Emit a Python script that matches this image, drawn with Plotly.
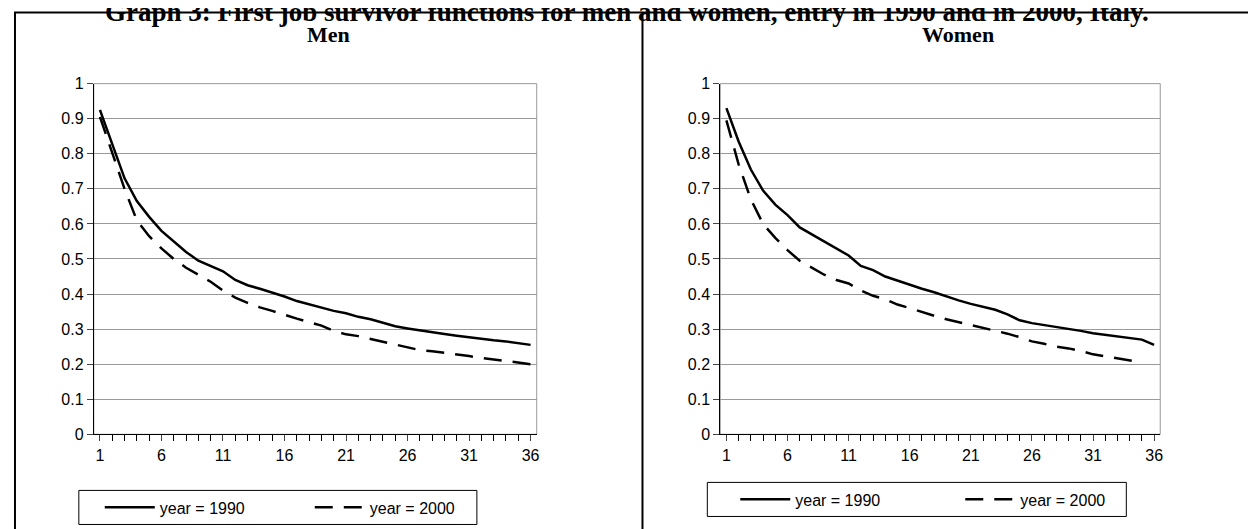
import plotly.graph_objects as go

x = list(range(1, 37))
men_1990 = [0.925,0.83,0.73,0.665,0.62,0.58,0.55,0.52,0.495,0.48,0.465,0.44,0.425,0.415,0.405,0.393,0.38,0.37,0.36,0.352,0.345,0.335,0.328,0.318,0.308,0.302,0.296,0.29,0.286,0.281,0.276,0.272,0.268,0.265,0.26,0.255]
men_2000 = [0.905,0.8,0.7,0.61,0.565,0.53,0.5,0.475,0.455,0.435,0.41,0.39,0.375,0.362,0.352,0.34,0.33,0.32,0.31,0.295,0.285,0.28,0.272,0.262,0.255,0.247,0.24,0.237,0.233,0.228,0.223,0.218,0.213,0.208,0.203,0.2]
women_1990 = [0.93,0.835,0.755,0.695,0.655,0.625,0.59,0.57,0.55,0.53,0.51,0.48,0.468,0.45,0.438,0.425,0.415,0.405,0.393,0.382,0.372,0.364,0.355,0.342,0.325,0.317,0.312,0.307,0.3,0.295,0.288,0.283,0.279,0.275,0.27,0.255]
women_2000 = [0.895,0.77,0.67,0.6,0.56,0.525,0.495,0.475,0.455,0.44,0.43,0.41,0.395,0.385,0.37,0.36,0.348,0.338,0.328,0.32,0.313,0.305,0.295,0.287,0.277,0.265,0.258,0.25,0.245,0.238,0.228,0.222,0.215,0.21,0.205]
xticks = [1, 6, 11, 16, 21, 26, 31, 36]
yticks = [0, 0.1, 0.2, 0.3, 0.4, 0.5, 0.6, 0.7, 0.8, 0.9, 1]

W, H = 1256, 529
fig = go.Figure()
solid = dict(color="black", width=2.5)
dash = dict(color="black", width=2.5, dash="18px,11px")
fig.add_trace(go.Scatter(x=x, y=men_1990, mode="lines", line=solid, name="year = 1990", xaxis="x", yaxis="y", legend="legend"))
fig.add_trace(go.Scatter(x=x, y=men_2000, mode="lines", line=dash, name="year = 2000", xaxis="x", yaxis="y", legend="legend"))
fig.add_trace(go.Scatter(x=x[:len(women_1990)], y=women_1990, mode="lines", line=solid, name="year = 1990", xaxis="x2", yaxis="y2", legend="legend2"))
fig.add_trace(go.Scatter(x=x[:len(women_2000)], y=women_2000, mode="lines", line=dash, name="year = 2000", xaxis="x2", yaxis="y2", legend="legend2"))

def px(v): return v / W
def py(v):
    v = (v - 16.5) / 0.966
    return 1 - v / H

dom_y = [py(434), py(84)]
tf = dict(family="Liberation Sans", size=16, color="black")
axx = dict(range=[0.5, 36.5], tickvals=xticks, ticks="outside", ticklen=6, showgrid=False,
           showline=True, linecolor="black", linewidth=1, zeroline=False,
           minor=dict(dtick=1, tick0=1, ticks="outside", ticklen=6, tickcolor="black"),
           tickfont=tf)
axy = dict(range=[0, 1], tickvals=yticks, ticktext=[("%g" % t) for t in yticks], ticks="outside", ticklen=6,
           showgrid=True, gridcolor="#999999", gridwidth=1, showline=True, linecolor="black", linewidth=1,
           zeroline=False, tickfont=tf)
lf = dict(family="Liberation Sans", size=16, color="black")
fig.update_layout(
    width=W, height=H, margin=dict(l=0, r=0, t=0, b=0), paper_bgcolor="white", plot_bgcolor="white",
    xaxis=dict(axx, domain=[px(86), px(530)], anchor="y"),
    yaxis=dict(axy, domain=dom_y, anchor="x"),
    xaxis2=dict(axx, domain=[px(714), px(1155)], anchor="y2"),
    yaxis2=dict(axy, domain=dom_y, anchor="x2"),
    legend=dict(orientation="h", x=px(92), y=py(507), xanchor="left", yanchor="middle", borderwidth=0,
                bgcolor="rgba(0,0,0,0)", entrywidth=145, font=lf, itemwidth=50),
    legend2=dict(orientation="h", x=px(729), y=py(499), xanchor="left", yanchor="middle", borderwidth=0,
                 bgcolor="rgba(0,0,0,0)", entrywidth=160, font=lf, itemwidth=50),
    showlegend=True,
)
for x0, x1 in [(86, 530), (714, 1155)]:
    fig.add_shape(type="rect", xref="paper", yref="paper", x0=px(x0), x1=px(x1), y0=dom_y[0], y1=dom_y[1],
                  line=dict(color="#999999", width=1), layer="below")
for x0, x1, y0, y1 in [(71, 470, 490, 524), (701, 1121, 482, 516)]:
    fig.add_shape(type="rect", xref="paper", yref="paper", x0=px(x0), x1=px(x1), y0=py(y1), y1=py(y0),
                  line=dict(color="black", width=1), layer="below")
fig.add_shape(type="rect", xref="paper", yref="paper", x0=px(7), x1=px(1248), y0=py(560), y1=py(13),
              line=dict(color="black", width=2))
fig.add_shape(type="line", xref="paper", yref="paper", x0=px(636), x1=px(636), y0=py(560), y1=py(13),
              line=dict(color="black", width=2))
fig.add_annotation(text="<b>Graph 3: First job survivor functions for men and women, entry in 1990 and in 2000, Italy.</b>",
                   xref="paper", yref="paper", x=px(620), y=py(13), xanchor="center", yanchor="middle", showarrow=False,
                   font=dict(family="Liberation Serif", size=27, color="black"))
for t, cx in [("Men", 321), ("Women", 952)]:
    fig.add_annotation(text="<b>%s</b>" % t, xref="paper", yref="paper", x=px(cx), y=py(35), xanchor="center",
                       yanchor="middle", showarrow=False, font=dict(family="Liberation Serif", size=22, color="black"))

fig.write_html("out.html")
